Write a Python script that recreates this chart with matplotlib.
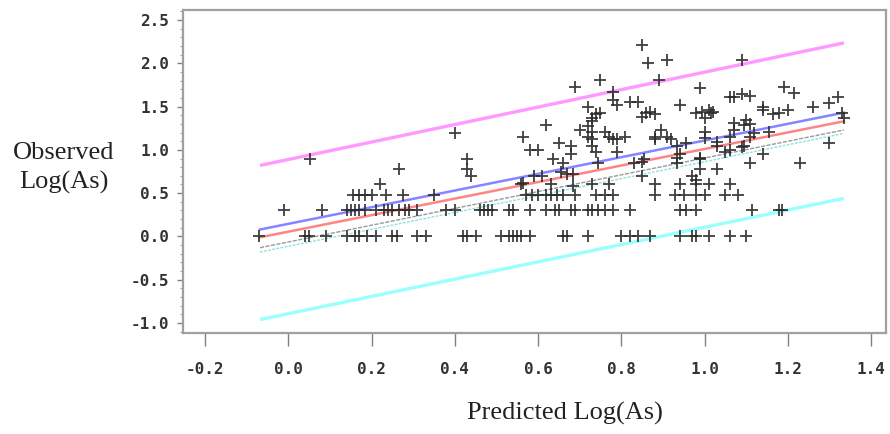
import numpy as np
import matplotlib.pyplot as plt

# predicted log(As) of the wells that sit on the discrete observed levels
pred_obs_0 = [-0.07, 0.04, 0.05, 0.09, 0.14, 0.16, 0.17, 0.19, 0.21, 0.25, 0.26, 0.31,
              0.33, 0.42, 0.43, 0.45, 0.51, 0.53, 0.54, 0.55, 0.56, 0.58, 0.66, 0.67,
              0.72, 0.80, 0.82, 0.84, 0.87, 0.94, 0.97, 0.98, 1.01, 1.06, 1.10]
pred_obs_030 = [-0.01, 0.08, 0.14, 0.15, 0.16, 0.17, 0.185, 0.21, 0.23, 0.24, 0.25,
                0.265, 0.28, 0.29, 0.31, 0.38, 0.40, 0.46, 0.47, 0.48, 0.49, 0.53, 0.54,
                0.58, 0.62, 0.64, 0.65, 0.68, 0.69, 0.72, 0.73, 0.745, 0.76, 0.78, 0.82,
                0.94, 0.955, 0.98, 1.115, 1.18, 1.185]
pred_obs_048 = [0.155, 0.17, 0.185, 0.20, 0.235, 0.275, 0.35, 0.57, 0.585, 0.60, 0.62,
                0.63, 0.645, 0.66, 0.69, 0.74, 0.76, 0.78, 0.88, 0.93, 0.95, 0.98, 1.00,
                1.05, 1.08]
pred_obs_060 = [0.22, 0.56, 0.63, 0.73, 0.77, 0.88, 0.94, 0.98, 1.01, 1.06]

# the other wells: predicted vs observed
pred_other = [0.053, 0.265, 0.40, 0.43, 0.43, 0.44, 0.565, 0.565, 0.58, 0.59, 0.60, 0.61,
              0.62, 0.635, 0.65, 0.655, 0.66, 0.67, 0.68, 0.68, 0.685, 0.685, 0.69, 0.70,
              0.72, 0.72, 0.72, 0.73, 0.73, 0.73, 0.73, 0.73, 0.74, 0.74, 0.745, 0.75,
              0.75, 0.76, 0.77, 0.78, 0.78, 0.78, 0.79, 0.79, 0.79, 0.81, 0.82, 0.83,
              0.84, 0.85, 0.85, 0.85, 0.85, 0.855, 0.86, 0.865, 0.87, 0.88, 0.88, 0.88,
              0.89, 0.895, 0.91, 0.91, 0.92, 0.935, 0.935, 0.935, 0.94, 0.94, 0.955,
              0.97, 0.98, 0.98, 0.99, 0.99, 0.99, 0.99, 0.995, 1.00, 1.00, 1.00, 1.01,
              1.015, 1.02, 1.03, 1.03, 1.03, 1.05, 1.06, 1.06, 1.06, 1.07, 1.07, 1.07,
              1.09, 1.09, 1.09, 1.095, 1.095, 1.10, 1.11, 1.11, 1.11, 1.11, 1.12, 1.14,
              1.14, 1.14, 1.155, 1.165, 1.18, 1.19, 1.20, 1.215, 1.23, 1.26, 1.30, 1.30,
              1.32, 1.33, 1.335]
obs_other = [0.90, 0.78, 1.20, 0.90, 0.78, 0.70, 1.15, 0.62, 1.00, 0.70, 1.00, 0.70,
             1.29, 0.90, 1.08, 0.74, 0.85, 0.72, 1.04, 0.95, 0.72, 0.58, 1.73, 1.23,
             1.49, 1.27, 1.15, 1.33, 1.37, 1.21, 1.12, 1.04, 1.41, 0.97, 0.85, 1.81,
             1.43, 1.21, 1.15, 1.67, 1.58, 1.12, 1.52, 1.12, 0.97, 1.15, 1.55, 0.85,
             1.55, 2.21, 1.38, 0.86, 0.70, 0.90, 1.43, 2.00, 1.44, 1.41, 1.15, 1.12,
             1.81, 1.23, 2.04, 1.15, 1.12, 1.04, 0.85, 0.91, 1.52, 0.95, 1.08,
             0.70, 1.43, 0.65, 1.72, 0.90, 0.78, 0.91, 1.44, 1.37, 1.21, 1.14, 1.46,
             1.43, 1.44, 1.09, 1.04, 0.78, 0.98, 1.61, 1.15, 1.00, 1.61, 1.31, 1.23,
             2.04, 1.64, 1.03, 1.29, 1.04, 1.35, 1.62, 1.30, 1.15, 0.85, 1.20, 1.50,
             1.46, 0.95, 1.21, 1.41, 1.43, 1.73, 1.46, 1.66, 0.85, 1.49, 1.54, 1.08,
             1.61, 1.43, 1.37]

# fitted line and limits, evaluated at both ends of the predicted range
line_x = [-0.068, 1.335]
upper_pi = [0.82, 2.235]
lower_pi = [-0.96, 0.44]
fit_blue = [0.08, 1.43]
fit_red = [-0.01, 1.33]
fit_gray = [-0.13, 1.23]
fit_cyan = [-0.18, 1.19]

xs = np.concatenate([pred_obs_0, pred_obs_030, pred_obs_048, pred_obs_060, pred_other])
ys = np.concatenate([np.full(len(pred_obs_0), 0.0),
                     np.full(len(pred_obs_030), np.log10(2)),
                     np.full(len(pred_obs_048), np.log10(3)),
                     np.full(len(pred_obs_060), np.log10(4)),
                     obs_other])

fig = plt.figure(figsize=(8.9, 4.34), dpi=100)
ax = fig.add_axes([183 / 890, 1 - 333 / 434, 703 / 890, 323 / 434])

ax.plot(line_x, upper_pi, color='#ff99ff', lw=2.4, solid_capstyle='butt')
ax.plot(line_x, lower_pi, color='#99ffff', lw=2.4, solid_capstyle='butt')
ax.plot(line_x, fit_cyan, color='#8fe0e0', lw=1.0, ls=(0, (2, 1)))
ax.plot(line_x, fit_gray, color='#9a9a9a', lw=1.0, ls=(0, (3, 1)))
ax.plot(line_x, fit_red, color='#ff8585', lw=1.8)
ax.plot(line_x, fit_blue, color='#8585ff', lw=1.8)
ax.plot(xs, ys, ls='none', marker='+', ms=9, mew=1.3, color='#2a2a2a', alpha=0.9)

ax.set_xlim(-0.253, 1.436)
ax.set_ylim(-1.115, 2.615)
xt = np.arange(-0.2, 1.41, 0.2)
yt = np.arange(-1.0, 2.51, 0.5)
ax.set_xticks(xt)
ax.set_yticks(yt)
ax.set_xticklabels(['%.1f' % v if abs(v) > 1e-9 else '0.0' for v in xt])
ax.set_yticklabels(['%.1f' % v if abs(v) > 1e-9 else '0.0' for v in yt])
ax.set_yticks(np.arange(-1.1, 2.61, 0.1), minor=True)

for s in ax.spines.values():
    s.set_color('#a0a0a0')
    s.set_linewidth(1.6)

ax.tick_params(axis='x', direction='out', length=9, width=1, color='#808080', pad=12)
ax.tick_params(axis='y', direction='out', length=4, width=1, color='#808080', pad=6)
ax.tick_params(axis='y', which='minor', length=2, width=0.8, color='#a0a0a0')
for lab in ax.get_xticklabels() + ax.get_yticklabels():
    lab.set_family('DejaVu Sans Mono')
    lab.set_fontweight('bold')
    lab.set_fontsize(11.5)
    lab.set_color('#333333')

fig.text(64 / 890, 1 - 168 / 434, 'Observed\nLog(As)', family='Liberation Serif',
         fontsize=19, ha='center', va='center', linespacing=1.4, color='#222222')
fig.text(565 / 890, 1 - 413 / 434, 'Predicted Log(As)', family='Liberation Serif',
         fontsize=19, ha='center', va='center', color='#222222')

fig.savefig('out.png', dpi=100)
